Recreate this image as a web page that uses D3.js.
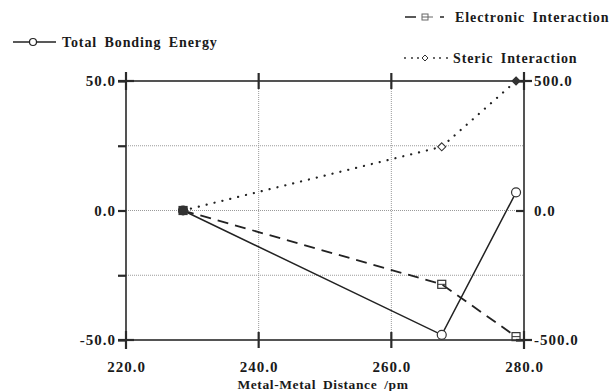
<!DOCTYPE html>
<html>
<head>
<meta charset="utf-8">
<script src="https://cdn.jsdelivr.net/npm/d3@7"></script>
<style>
  body { margin: 0; background: #fff; }
  text { font-family: "Liberation Serif", "Times New Roman", serif; font-weight: bold; fill: #1a1a1a; }
</style>
</head>
<body>
<div id="plot"></div>
<script>
const FRAME_WIDTH = 610;
const FRAME_HEIGHT = 391;
const MARGIN = {left: 126, right: 86, top: 81, bottom: 50};

// data
const distance = [228.6, 267.6, 278.8];
const totalEnergy = [0, -48, 7];
const electronic = [0, -285, -487];
const steric = [0, 246, 500];

const xTicks = [220, 240, 260, 280];
const leftTicks = [-50, -25, 0, 25, 50];
const leftLabels = [-50, 0, 50];
const rightTicks = [-500, 0, 500];

const FRAME = d3.select("#plot")
  .append("svg")
    .attr("width", FRAME_WIDTH)
    .attr("height", FRAME_HEIGHT);

const VIS_WIDTH = FRAME_WIDTH - MARGIN.left - MARGIN.right;
const VIS_HEIGHT = FRAME_HEIGHT - MARGIN.top - MARGIN.bottom - 1;

const X_SCALE = d3.scaleLinear().domain([220, 280]).range([MARGIN.left, MARGIN.left + VIS_WIDTH]);
const YL_SCALE = d3.scaleLinear().domain([-50, 50]).range([MARGIN.top + VIS_HEIGHT, MARGIN.top]);
const YR_SCALE = d3.scaleLinear().domain([-500, 500]).range([MARGIN.top + VIS_HEIGHT, MARGIN.top]);

const x0 = X_SCALE(220), x1 = X_SCALE(280);
const y0 = YL_SCALE(-50), y1 = YL_SCALE(50);
const axisColor = "#2a2a2a";

// grid
FRAME.selectAll(".hgrid")
  .data([-25, 0, 25])
  .enter().append("line")
    .attr("x1", x0).attr("x2", x1)
    .attr("y1", d => YL_SCALE(d)).attr("y2", d => YL_SCALE(d))
    .attr("stroke", "#9a9a9a").attr("stroke-width", 1)
    .attr("stroke-dasharray", "1,1");

FRAME.selectAll(".vgrid")
  .data([240, 260])
  .enter().append("line")
    .attr("x1", d => X_SCALE(d)).attr("x2", d => X_SCALE(d))
    .attr("y1", y1).attr("y2", y0)
    .attr("stroke", "#9a9a9a").attr("stroke-width", 1)
    .attr("stroke-dasharray", "1,1");

// frame
FRAME.append("rect")
  .attr("x", x0).attr("y", y1)
  .attr("width", x1 - x0).attr("height", y0 - y1)
  .attr("fill", "none").attr("stroke", axisColor).attr("stroke-width", 1.6);

// left axis (labels from d3 axis, ticks outward)
FRAME.append("g")
  .attr("transform", "translate(" + x0 + ",0)")
  .call(d3.axisLeft(YL_SCALE).tickValues(leftTicks).tickSize(8)
    .tickFormat(d => leftLabels.includes(d) ? d.toFixed(1) : ""))
  .call(g => g.select(".domain").remove())
  .call(g => g.selectAll("line").attr("stroke", axisColor).attr("stroke-width", 2.2))
  .call(g => g.selectAll("text").attr("font-size", 15).attr("letter-spacing", 1)
    .attr("font-family", "Liberation Serif").attr("font-weight", "bold").attr("fill", "#1a1a1a").attr("x", -10));

// right axis, ticks inward
FRAME.append("g")
  .attr("transform", "translate(" + x1 + ",0)")
  .call(d3.axisRight(YR_SCALE).tickValues(rightTicks).tickSizeInner(-8).tickSizeOuter(0)
    .tickFormat(d => d.toFixed(1)))
  .call(g => g.select(".domain").remove())
  .call(g => g.selectAll("line").attr("stroke", axisColor).attr("stroke-width", 2.2))
  .call(g => g.selectAll("text").attr("font-size", 15).attr("letter-spacing", 1)
    .attr("font-family", "Liberation Serif").attr("font-weight", "bold").attr("fill", "#1a1a1a").attr("x", 10));

// bottom axis
FRAME.append("g")
  .attr("transform", "translate(0," + y0 + ")")
  .call(d3.axisBottom(X_SCALE).tickValues(xTicks).tickSize(0).tickPadding(21)
    .tickFormat(d => d.toFixed(1)))
  .call(g => g.select(".domain").remove())
  .call(g => g.selectAll("text").attr("font-size", 15).attr("letter-spacing", 1)
    .attr("font-family", "Liberation Serif").attr("font-weight", "bold").attr("fill", "#1a1a1a"));

// crossing ticks on top and bottom
[y1, y0].forEach(yy => {
  FRAME.selectAll(null)
    .data([240, 260])
    .enter().append("line")
      .attr("x1", d => X_SCALE(d)).attr("x2", d => X_SCALE(d))
      .attr("y1", yy - 8).attr("y2", yy + 8)
      .attr("stroke", axisColor).attr("stroke-width", 2.2);
});

// corner crosses
[[x0, y1], [x0, y0], [x1, y1], [x1, y0]].forEach(([cx, cy]) => {
  FRAME.append("line")
    .attr("x1", cx).attr("x2", cx).attr("y1", cy - 9).attr("y2", cy + 9)
    .attr("stroke", axisColor).attr("stroke-width", 2.2);
  FRAME.append("line")
    .attr("x1", cx - 8).attr("x2", cx + 8).attr("y1", cy).attr("y2", cy)
    .attr("stroke", axisColor).attr("stroke-width", 2.2);
});

// x axis title
FRAME.append("text")
  .attr("x", 323).attr("y", 389)
  .attr("text-anchor", "middle")
  .attr("font-size", 13.5).attr("letter-spacing", 0.6).attr("word-spacing", 3)
  .text("Metal-Metal Distance /pm");

// series
const pts = (ys, scale) => distance.map((d, i) => [X_SCALE(d), scale(ys[i])]);
const line = d3.line();

FRAME.append("path")
  .attr("d", line(pts(steric, YR_SCALE)))
  .attr("fill", "none").attr("stroke", "#222").attr("stroke-width", 2.2)
  .attr("stroke-linecap", "round").attr("stroke-dasharray", "0.1,8");

FRAME.append("path")
  .attr("d", line(pts(electronic, YR_SCALE)))
  .attr("fill", "none").attr("stroke", "#222").attr("stroke-width", 1.8)
  .attr("stroke-dasharray", "11,7");

FRAME.append("path")
  .attr("d", line(pts(totalEnergy, YL_SCALE)))
  .attr("fill", "none").attr("stroke", "#222").attr("stroke-width", 1.5);

// markers
FRAME.selectAll(".tot")
  .data(pts(totalEnergy, YL_SCALE))
  .enter().append("circle")
    .attr("cx", d => d[0]).attr("cy", d => d[1]).attr("r", 4.5)
    .attr("fill", (d, i) => i === 0 ? "#333" : "#fff").attr("stroke", "#333").attr("stroke-width", 1.2);

const ePts = pts(electronic, YR_SCALE);
FRAME.selectAll(".ele")
  .data(ePts)
  .enter().append("rect")
    .attr("x", d => d[0] - 4).attr("y", d => d[1] - 4)
    .attr("width", 8).attr("height", 8)
    .attr("fill", (d, i) => i === 0 ? "#333" : "none").attr("stroke", "#333").attr("stroke-width", 1.2);
FRAME.selectAll(".eleBar")
  .data(ePts)
  .enter().append("line")
    .attr("x1", d => d[0] - 4).attr("x2", d => d[0] + 4)
    .attr("y1", d => d[1]).attr("y2", d => d[1])
    .attr("stroke", "#333").attr("stroke-width", 1);

FRAME.selectAll(".ste")
  .data(pts(steric, YR_SCALE))
  .enter().append("path")
    .attr("d", d => "M" + d[0] + "," + (d[1] - 4) + "L" + (d[0] + 4) + "," + d[1] +
      "L" + d[0] + "," + (d[1] + 4) + "L" + (d[0] - 4) + "," + d[1] + "Z")
    .attr("fill", (d, i) => i === 0 || i === 2 ? "#333" : "#fff").attr("stroke", "#333").attr("stroke-width", 1.1);

// legends
const legendText = (x, y, s) => FRAME.append("text")
  .attr("x", x).attr("y", y).attr("font-size", 14)
  .attr("letter-spacing", 0.9).attr("word-spacing", 3).text(s);

// total
FRAME.append("line").attr("x1", 13).attr("x2", 56).attr("y1", 42).attr("y2", 42)
  .attr("stroke", "#222").attr("stroke-width", 1.5);
FRAME.append("circle").attr("cx", 33).attr("cy", 42).attr("r", 3.5)
  .attr("fill", "#fff").attr("stroke", "#222").attr("stroke-width", 1.2);
legendText(62, 47, "Total Bonding Energy");

// electronic
FRAME.append("line").attr("x1", 405).attr("x2", 416).attr("y1", 17).attr("y2", 17)
  .attr("stroke", "#222").attr("stroke-width", 1.5);
FRAME.append("rect").attr("x", 422).attr("y", 14).attr("width", 6).attr("height", 6)
  .attr("fill", "none").attr("stroke", "#666").attr("stroke-width", 1);
FRAME.append("line").attr("x1", 422).attr("x2", 433).attr("y1", 17).attr("y2", 17)
  .attr("stroke", "#666").attr("stroke-width", 1);
FRAME.append("line").attr("x1", 440).attr("x2", 444).attr("y1", 17).attr("y2", 17)
  .attr("stroke", "#222").attr("stroke-width", 1.5);
legendText(455, 22, "Electronic Interaction");

// steric
FRAME.selectAll(".sdot")
  .data([405, 412, 418, 434, 440, 447])
  .enter().append("circle")
    .attr("cx", d => d).attr("cy", 58).attr("r", 0.9).attr("fill", "#222");
FRAME.append("path").attr("d", "M425,55L428,58L425,61L422,58Z")
  .attr("fill", "#fff").attr("stroke", "#333").attr("stroke-width", 1);
legendText(453, 63, "Steric Interaction");
</script>
</body>
</html>
